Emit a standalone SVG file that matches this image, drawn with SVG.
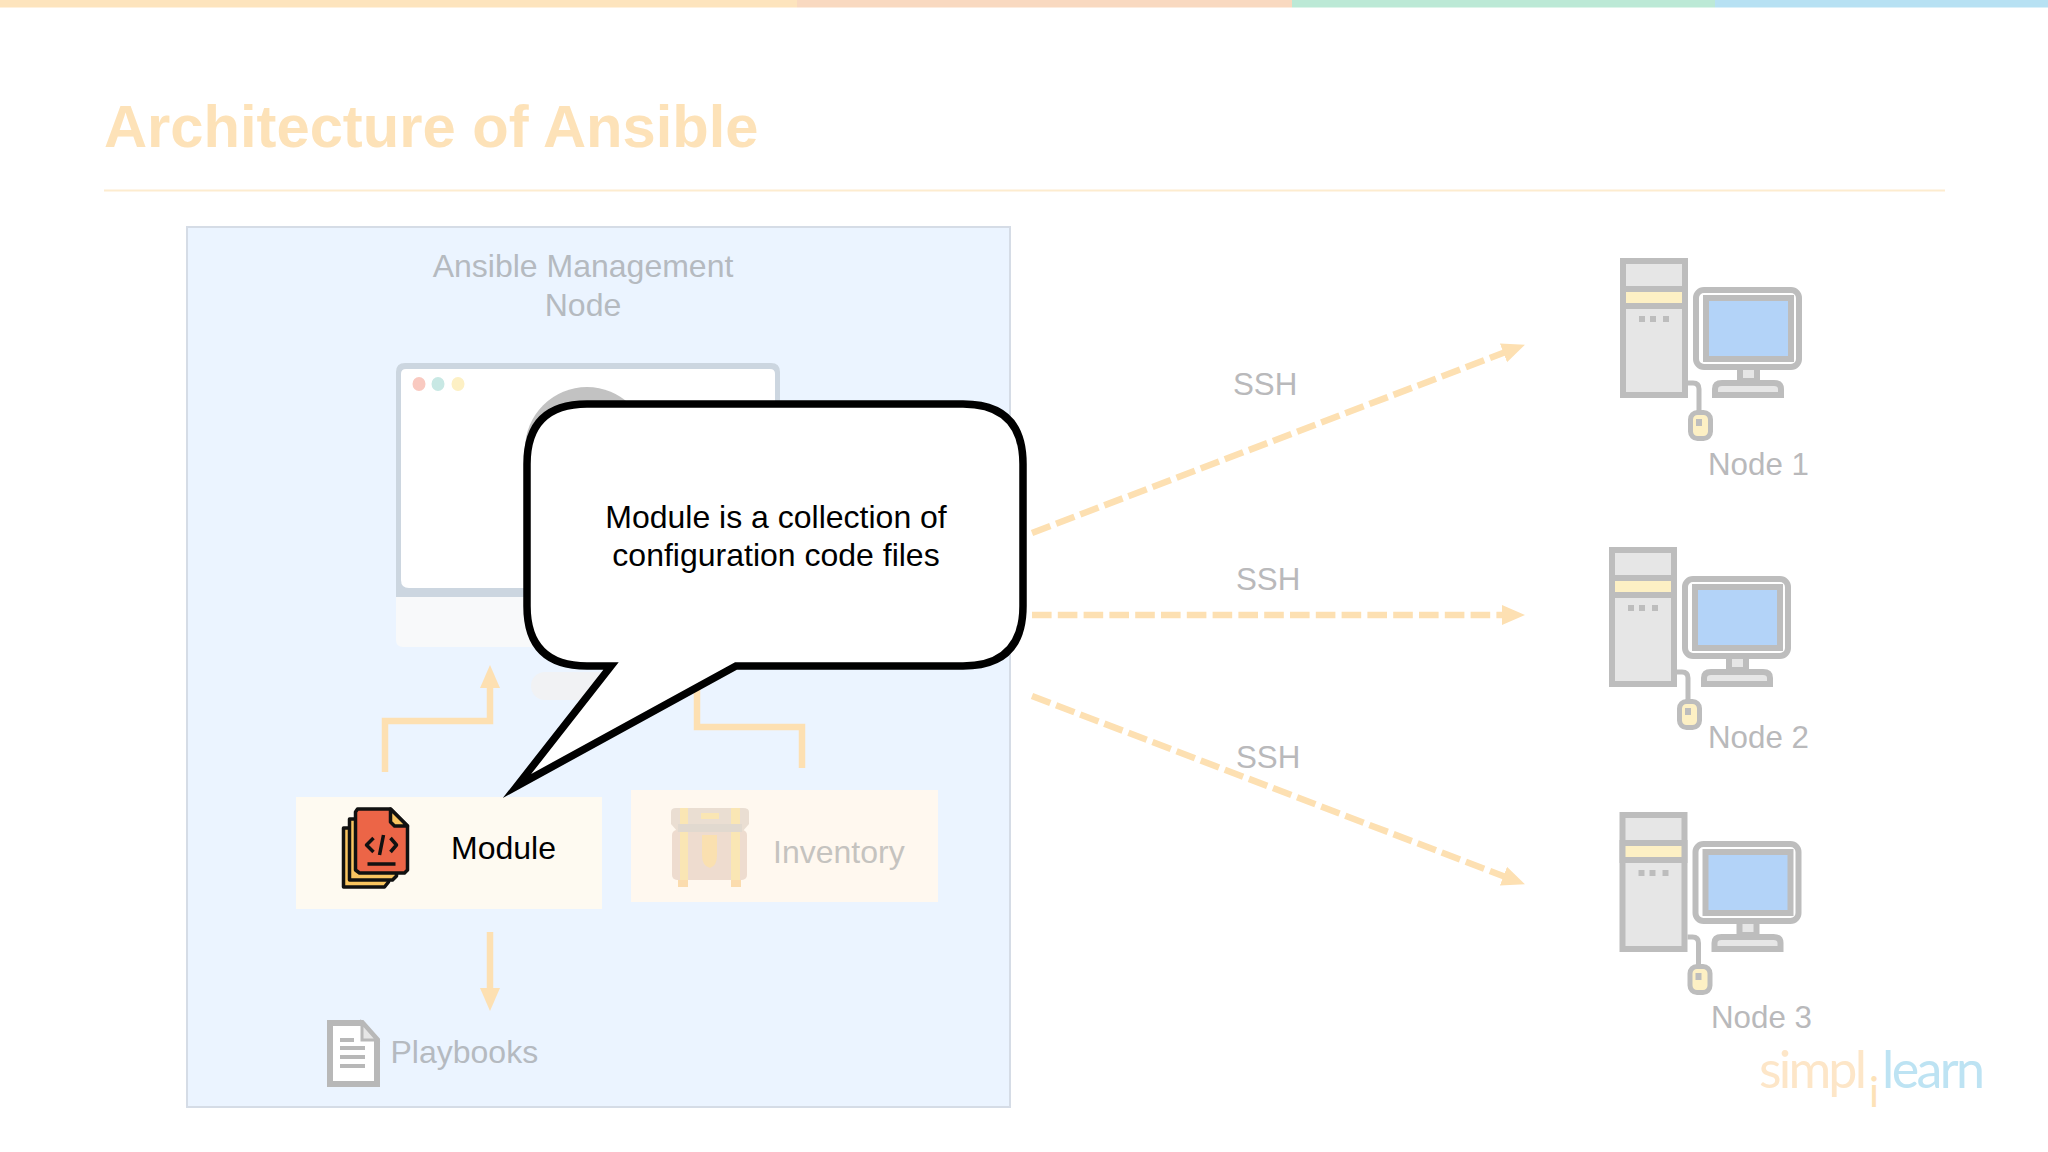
<svg xmlns="http://www.w3.org/2000/svg" width="2048" height="1152" viewBox="0 0 2048 1152">
<style>
text{font-family:"Liberation Sans",Arial,sans-serif;font-size:32px}
.muted{fill:#b5bac0}
.soft{font-size:31.300px;fill:#b9b9bb}
.logo{font-family:Lato,"Open Sans",sans-serif;font-size:52px;font-weight:400}
.conn{fill:none;stroke:#fde0b2;stroke-width:6.500}
.dash{stroke-dasharray:19.6 6.2}
.line{fill:none;stroke:#bdbdbd;stroke-width:5}
.ink{fill:none;stroke:#111111;stroke-width:3.500;stroke-linejoin:round}
</style>
<defs>
<marker id="head" markerUnits="userSpaceOnUse" markerWidth="24" markerHeight="22" refX="10" refY="10" orient="auto"><path d="M0,0L23,10L0,20z" fill="#fde0b2"/></marker>
<g id="pc">
<rect x="1623" y="261" width="62" height="134" fill="#e6e6e6" stroke="#bdbdbd" stroke-width="6"/>
<rect x="1623" y="289" width="62" height="17" fill="#fdf0c4" stroke="#bdbdbd" stroke-width="6"/>
<rect x="1639" y="316" width="6" height="6" fill="#bdbdbd"/><rect x="1650" y="316" width="6" height="6" fill="#bdbdbd"/><rect x="1663" y="316" width="6" height="6" fill="#bdbdbd"/>
<rect x="1696" y="290" width="103" height="77" rx="8" fill="#ffffff" stroke="#bdbdbd" stroke-width="6"/>
<rect x="1706" y="298" width="85" height="61" fill="#b3d3f8" stroke="#bdbdbd" stroke-width="6"/>
<path d="M1740,370V381H1757V370" fill="#e6e6e6" stroke="#bdbdbd" stroke-width="6"/>
<path d="M1715,395V389Q1715,383 1722,383H1774Q1781,383 1781,389V395z" fill="#e6e6e6" stroke="#bdbdbd" stroke-width="6"/>
<path d="M1688,383H1693Q1699,383 1699,389V411" class="line"/>
<rect x="1690.500" y="412.500" width="20" height="26" rx="7" fill="#fdf0c4" stroke="#bdbdbd" stroke-width="5"/>
<rect x="1696" y="419" width="6" height="7" fill="#bdbdbd"/>
</g>
</defs>
<rect width="2048" height="1152" fill="#ffffff"/>
<g id="top-bar">
<rect x="0" y="0" width="797" height="7.500" fill="#fde4bd"/>
<rect x="797" y="0" width="495" height="7.500" fill="#f9d9c0"/>
<rect x="1292" y="0" width="423" height="7.500" fill="#bce9d6"/>
<rect x="1715" y="0" width="333" height="7.500" fill="#b7e1f3"/>
</g>
<g id="title">
<text x="104" y="147" style="font-size:59.700px;font-weight:700" fill="#fde2b8">Architecture of Ansible</text>
<rect x="104" y="189.500" width="1841" height="2" fill="#fdeccf"/>
</g>
<g id="management-node">
<rect x="187" y="227" width="823" height="880" fill="#ebf4ff" stroke="#d5dce6" stroke-width="2"/>
<text class="muted" x="583" y="277" text-anchor="middle">Ansible Management</text>
<text class="muted" x="583" y="316" text-anchor="middle">Node</text>
</g>
<g id="controller">
<path d="M396,597V372Q396,363 405,363H771Q780,363 780,372V597z" fill="#ccd6e0"/>
<path d="M401,580V374Q401,369 406,369H770Q775,369 775,374V580Q775,588 767,588H409Q401,588 401,580z" fill="#ffffff"/>
<path d="M396,597H780V640Q780,647 773,647H403Q396,647 396,640z" fill="#f8f9fa"/>
<ellipse cx="419" cy="384" rx="6.500" ry="7" fill="#f9c9c0"/>
<ellipse cx="438" cy="384" rx="6.500" ry="7" fill="#c8e8e4"/>
<ellipse cx="458" cy="384" rx="6.500" ry="7" fill="#fdf0c4"/>
<circle cx="587" cy="449" r="62" fill="#c2c2c2"/>
<rect x="531" y="672" width="92" height="28" rx="14" fill="#f1f2f4"/>
</g>
<g id="connectors">
<path class="conn" d="M385,772V721H490V678" marker-end="url(#head)"/>
<path class="conn" d="M802,768V727H697V660"/>
<path class="conn" d="M490,932V998" marker-end="url(#head)"/>
<path class="conn dash" d="M1032,533L1512.800,349.300" marker-end="url(#head)"/>
<path class="conn dash" d="M1032,615H1512" marker-end="url(#head)"/>
<path class="conn dash" d="M1032,696L1512.800,879.700" marker-end="url(#head)"/>
</g>
<g id="ssh-labels">
<text class="soft" x="1233" y="395">SSH</text>
<text class="soft" x="1236" y="590">SSH</text>
<text class="soft" x="1236" y="768">SSH</text>
</g>
<g id="module">
<rect x="296" y="797" width="306" height="112" fill="#fefaf1"/>
<g transform="translate(-1.500,0)">
<path class="ink" style="fill:#f9c560" d="M345,828H390V882L386,887H345V828z"/>
<path class="ink" style="fill:#f9c560" d="M351,819H398V876L394,880H351V819z"/>
<path class="ink" style="fill:#ec6547" d="M359,809H392L409,826V870L406,873H361L357,870V812z"/>
<path class="ink" style="fill:#f9c560" d="M392,809V822L396,826H409z"/>
<path class="ink" d="M375,838L368,845L375,852M392,838L398,845L392,852M385,835L381,855M369,864H397"/>
</g>
<text x="451" y="859" fill="#000000">Module</text>
</g>
<g id="inventory">
<rect x="631" y="790" width="307" height="112" fill="#fff8ef"/>
<g transform="translate(-2,0)">
<rect x="674" y="830" width="75" height="50" rx="5" fill="#eedccf"/>
<path d="M673,812Q673,808 678,808H745Q751,808 751,812V824L744,832H680L673,824z" fill="#eaded2"/>
<rect x="680" y="824" width="64" height="8" fill="#e1d9cf"/>
<rect x="682" y="808" width="8" height="16" fill="#fae6b4"/><rect x="733" y="808" width="9" height="16" fill="#fae6b4"/>
<rect x="682" y="832" width="8" height="50" fill="#fae6b4"/><rect x="733" y="832" width="9" height="50" fill="#fae6b4"/>
<rect x="703" y="813" width="18" height="6" fill="#fae6b4"/>
<path d="M704,835H719V855Q719,866 712,868Q704,866 704,855z" fill="#fae0b0"/>
<rect x="680" y="880" width="10" height="7" fill="#fbdcae"/><rect x="733" y="880" width="10" height="7" fill="#fbdcae"/>
</g>
<text x="773" y="863" fill="#c5c3bf">Inventory</text>
</g>
<g id="playbooks">
<path d="M330,1023H362L377,1040V1084H330z" fill="#ffffff" stroke="#b8b8b8" stroke-width="6"/>
<path d="M362,1023V1040H377z" fill="#e6e6e6" stroke="#b8b8b8" stroke-width="3"/>
<rect x="340" y="1038" width="14" height="4" fill="#b8b8b8"/>
<rect x="340" y="1046" width="25" height="4" fill="#b8b8b8"/>
<rect x="340" y="1055" width="25" height="4" fill="#b8b8b8"/>
<rect x="340" y="1064" width="25" height="4" fill="#b8b8b8"/>
<text class="muted" x="390.500" y="1063">Playbooks</text>
</g>
<g id="node-1"><use href="#pc"/><text class="soft" x="1708" y="475">Node 1</text></g>
<g id="node-2"><use href="#pc" transform="translate(-11,289)"/><text class="soft" x="1708" y="748">Node 2</text></g>
<g id="node-3"><use href="#pc" transform="translate(-0.500,554)"/><text class="soft" x="1711" y="1028">Node 3</text></g>
<g id="logo">
<text class="logo" x="1759" y="1088" textLength="108" fill="#fde6c8">simpl</text>
<text class="logo" x="1869" y="1107" style="font-size:42px" fill="#fde2b8">i</text>
<text class="logo" x="1882" y="1088" textLength="103" fill="#bde3f3">learn</text>
</g>
<g id="callout">
<path d="M587,404H963Q1023,404 1023,464V606Q1023,666 963,666H736L517,786L611,666H587Q527,666 527,606V464Q527,404 587,404z" fill="#ffffff" stroke="#000000" stroke-width="7.500" stroke-miterlimit="12"/>
<text x="776" y="528" text-anchor="middle" fill="#000000">Module is a collection of</text>
<text x="776" y="566" text-anchor="middle" fill="#000000">configuration code files</text>
</g>
</svg>
